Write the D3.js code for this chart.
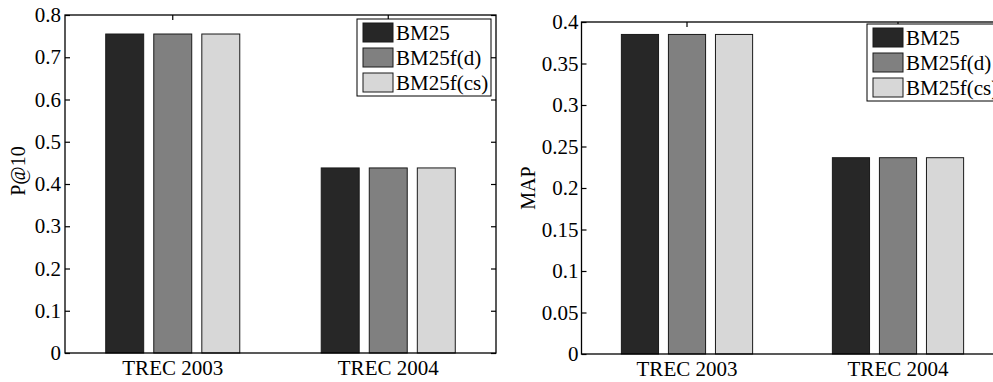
<!DOCTYPE html>
<html>
<head>
<meta charset="utf-8">
<script src="https://cdn.jsdelivr.net/npm/d3@7"></script>
<style>
  html, body { margin: 0; padding: 0; background: #fff; overflow: hidden; }
  text { font-family: "Liberation Serif", "Times New Roman", serif; fill: #000; }
</style>
</head>
<body>
<div id="chart"></div>
<script>
// data
const categories = ["TREC 2003", "TREC 2004"];
const seriesNames = ["BM25", "BM25f(d)", "BM25f(cs)"];
const seriesColors = ["#272727", "#808080", "#d7d7d7"];

// P@10 per series, one value per category
const p10Values = [
    [0.755, 0.438],
    [0.755, 0.438],
    [0.755, 0.438]
];
// MAP per series
const mapValues = [
    [0.385, 0.2365],
    [0.385, 0.2365],
    [0.385, 0.2365]
];

const p10Ticks = [0, 0.1, 0.2, 0.3, 0.4, 0.5, 0.6, 0.7, 0.8];
const mapTicks = [0, 0.05, 0.1, 0.15, 0.2, 0.25, 0.3, 0.35, 0.4];

const W = 993, H = 382;
const fontSize = "21px";

const svg = d3.select("#chart")
    .append("svg")
    .attr("width", W)
    .attr("height", H);

// one panel = one MATLAB-style boxed bar chart
function drawPanel(opt) {
    const g = svg.append("g");

    const x = d3.scaleBand()
        .domain(categories)
        .range([opt.left, opt.right])
        .paddingInner(0)
        .paddingOuter(0);

    const groupW = x.bandwidth() * 0.622;
    const xs = d3.scaleBand()
        .domain(seriesNames)
        .range([-groupW / 2, groupW / 2])
        .paddingInner(0.21)
        .paddingOuter(0);

    const y = d3.scaleLinear()
        .domain([opt.ticks[0], opt.ticks[opt.ticks.length - 1]])
        .range([opt.bottom, opt.top]);

    const fmt = d => String(+d.toFixed(2));

    // left axis, ticks inward
    const yAx = g.append("g")
        .attr("transform", `translate(${opt.left},0)`)
        .call(d3.axisLeft(y).tickValues(opt.ticks).tickFormat(fmt)
            .tickSizeInner(-5).tickSizeOuter(0).tickPadding(opt.yPad));
    // right side ticks
    const yAxR = g.append("g")
        .attr("transform", `translate(${opt.right},0)`)
        .call(d3.axisRight(y).tickValues(opt.ticks).tickFormat("")
            .tickSizeInner(-5).tickSizeOuter(0));
    // bottom axis
    const xAx = g.append("g")
        .attr("transform", `translate(0,${opt.bottom})`)
        .call(d3.axisBottom(x).tickSizeInner(-5).tickSizeOuter(0).tickPadding(7));
    // top ticks
    const xAxT = g.append("g")
        .attr("transform", `translate(0,${opt.top})`)
        .call(d3.axisTop(x).tickFormat("").tickSizeInner(-5).tickSizeOuter(0));

    [yAx, yAxR, xAx, xAxT].forEach(a => {
        a.select(".domain").remove();
        a.selectAll("line").attr("stroke", "#000").attr("stroke-width", 1.2);
        a.selectAll("text")
            .style("font-size", fontSize)
            .attr("fill", "#000");
    });

    // bars
    seriesNames.forEach((s, j) => {
        g.append("g")
            .selectAll("rect")
            .data(opt.values[j])
            .enter().append("rect")
            .attr("x", (d, i) => x(categories[i]) + x.bandwidth() / 2 + xs(s))
            .attr("y", d => y(d))
            .attr("width", xs.bandwidth())
            .attr("height", d => y(0) - y(d))
            .attr("fill", seriesColors[j])
            .attr("stroke", "#1a1a1a")
            .attr("stroke-width", 1);
    });

    // axes box
    g.append("rect")
        .attr("x", opt.left)
        .attr("y", opt.top)
        .attr("width", opt.right - opt.left)
        .attr("height", opt.bottom - opt.top)
        .attr("fill", "none")
        .attr("stroke", "#000")
        .attr("stroke-width", 1.3);

    // y label
    g.append("text")
        .attr("transform", `translate(${opt.labelX},${opt.labelY}) rotate(-90)`)
        .style("text-anchor", "middle")
        .style("font-size", "20px")
        .text(opt.label);

    // legend
    const lg = g.append("g")
        .attr("transform", `translate(${opt.legendX},${opt.legendY})`);
    lg.append("rect")
        .attr("width", 134)
        .attr("height", 77)
        .attr("fill", "#fff")
        .attr("stroke", "#000")
        .attr("stroke-width", 1);
    seriesNames.forEach((s, j) => {
        const row = lg.append("g").attr("transform", `translate(0,${j * 25})`);
        row.append("rect")
            .attr("x", 6)
            .attr("y", 4)
            .attr("width", 30)
            .attr("height", 19)
            .attr("fill", seriesColors[j])
            .attr("stroke", "#1a1a1a")
            .attr("stroke-width", 1);
        row.append("text")
            .attr("x", 39)
            .attr("y", 14)
            .attr("dy", "0.35em")
            .style("font-size", fontSize)
            .text(s);
    });
}

drawPanel({
    left: 65, right: 496, top: 15, bottom: 353,
    ticks: p10Ticks, values: p10Values, yPad: 4,
    label: "P@10", labelX: 25, labelY: 171,
    legendX: 357, legendY: 19
});

drawPanel({
    left: 581.5, right: 1003.5, top: 22, bottom: 354,
    ticks: mapTicks, values: mapValues, yPad: 3,
    label: "MAP", labelX: 535, labelY: 188,
    legendX: 867, legendY: 24
});
</script>
</body>
</html>
